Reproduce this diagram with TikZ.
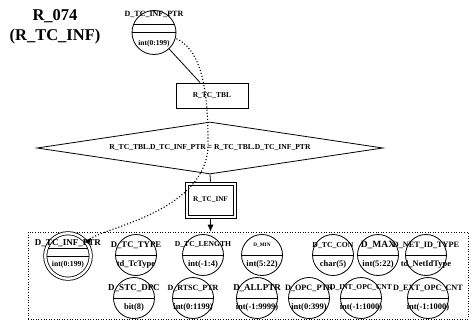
\documentclass[tikz,border=0pt]{standalone}
\usepackage{fontspec}
\setmainfont{Liberation Serif}
\usetikzlibrary{shapes.geometric,arrows.meta}
\newcommand\fsz[1]{\fontsize{#1}{#1}\selectfont}
\begin{document}
\begin{tikzpicture}[x=1pt,y=-1pt,
  lw/.style={line width=0.8pt},
  toplbl/.style={font=\bfseries\fsz{8},yshift=10pt,inner sep=0pt},
  botlbl/.style={font=\bfseries\fsz{8.5},yshift=-9pt,inner sep=0pt},
  fld/.style 2 args={circle,draw,lw,minimum size=41pt,inner sep=0pt,
    path picture={\draw[lw] (path picture bounding box.west) -- (path picture bounding box.east);},
    label={[toplbl]center:{#1}},label={[botlbl]center:{#2}}},
  keyline/.style={path picture={
    \draw[lw] ([yshift=8pt]path picture bounding box.west) -- ([yshift=8pt]path picture bounding box.east);
    \draw[lw] (path picture bounding box.west) -- (path picture bounding box.east);}},
  tablebox/.style={draw,lw,rectangle,inner sep=0pt,font=\bfseries\fsz{7.5}},
  dblbox/.style={path picture={
    \draw[lw] ([shift={(3pt,-3pt)}]path picture bounding box.north west) rectangle
              ([shift={(-3pt,3pt)}]path picture bounding box.south east);}},
]
\useasboundingbox (0,0) rectangle (471,321);

% title
\node[font=\bfseries\fontsize{16.5}{20}\selectfont,align=center,inner sep=0pt] (title) at (55,27) {R\_074\\(R\_TC\_INF)};

% top key circle
\node[circle,draw,lw,minimum size=44pt,inner sep=0pt,keyline,
  label={[toplbl,yshift=8pt]center:{D\_TC\_INF\_PTR}},
  label={[botlbl,yshift=-2pt,font=\bfseries\fsz{7.5}]center:{int(0:199)}}] (topc) at (154,32.5) {};

% R_TC_TBL
\node[tablebox,minimum width=72pt,minimum height=25pt] (tbl) at (212,95.5) {R\_TC\_TBL};

% condition diamond
\node[diamond,draw,lw,aspect=6.65,minimum width=346pt,minimum height=52pt,inner sep=0pt,
  font=\bfseries\fsz{7.6}] (cond) at (210,148) {R\_TC\_TBL.D\_TC\_INF\_PTR = R\_TC\_TBL.D\_TC\_INF\_PTR};

% R_TC_INF (double box)
\node[tablebox,dblbox,minimum width=51pt,minimum height=36pt,font=\bfseries\fsz{7.2}] (rinf) at (210.5,200) {R\_TC\_INF};

% group of fields
\node[draw,dotted,line width=0.6pt,minimum width=440pt,minimum height=87pt,inner sep=0pt] (grp) at (248,275.5) {};

% key field in group
\node[circle,draw,lw,double,double distance=2.4pt,minimum size=45.5pt,inner sep=0pt,
  path picture={
    \draw[lw] ([yshift=7.5pt]path picture bounding box.west) -- ([yshift=7.5pt]path picture bounding box.east);
    \draw[lw] (path picture bounding box.west) -- (path picture bounding box.east);},
  label={[toplbl,yshift=3pt,font=\bfseries\fsz{9}]center:{D\_TC\_INF\_PTR}},
  label={[botlbl,font=\bfseries\fsz{7.7}]center:{int(0:199)}}] (kf) at (68,256) {};

% row 1
\node[fld={\fsz{8.7}D\_TC\_TYPE}{td\_TcType}] (f1) at (136,255) {};
\node[fld={\fsz{7.6}D\_TC\_LENGTH}{int(-1:4)}] (f2) at (203,255) {};
\node[fld={\fsz{5.2}D\_MIN}{int(5:22)}] (f3) at (262,255) {};
\node[fld={\fsz{7.7}D\_TC\_CON}{char(5)}] (f4) at (333,255) {};
\node[fld={\fsz{9.5}D\_MAX}{int(5:22)}] (f5) at (378,255) {};
\node[fld={\fsz{8.2}D\_NET\_ID\_TYPE}{td\_NetIdType}] (f6) at (426,255) {};

% row 2
\node[fld={\fsz{9}D\_STC\_DPC}{bit(8)}] (g1) at (134,298) {};
\node[fld={\fsz{8}D\_RTSC\_PTR}{int(0:1199)}] (g2) at (193,298) {};
\node[fld={\fsz{9}D\_ALLPTR}{int(-1:9999)}] (g3) at (257,298) {};
\node[fld={\fsz{8.2}D\_OPC\_PTR}{int(0:399)}] (g4) at (309,298) {};
\node[fld={\fsz{7.5}D\_INT\_OPC\_CNT}{int(-1:1000)}] (g5) at (361,298) {};
\node[fld={\fsz{8.2}D\_EXT\_OPC\_CNT}{int(-1:1000)}] (g6) at (428,298) {};

% connectors
\draw[lw] (topc) -- (tbl);
\draw[lw] (cond.south) -- (rinf.north);
\draw[lw,-{Latex[length=7pt,width=6pt]}] (rinf.south) -- (rinf.south |- grp.north);
\draw[dotted,line width=1.1pt,{Latex[reversed,length=7pt,width=6pt]}-]
  (kf.35) .. controls (100,228) and (212,212) .. (208,140)
          .. controls (208,80) and (198,48) .. (topc.-15);
\end{tikzpicture}
\end{document}
